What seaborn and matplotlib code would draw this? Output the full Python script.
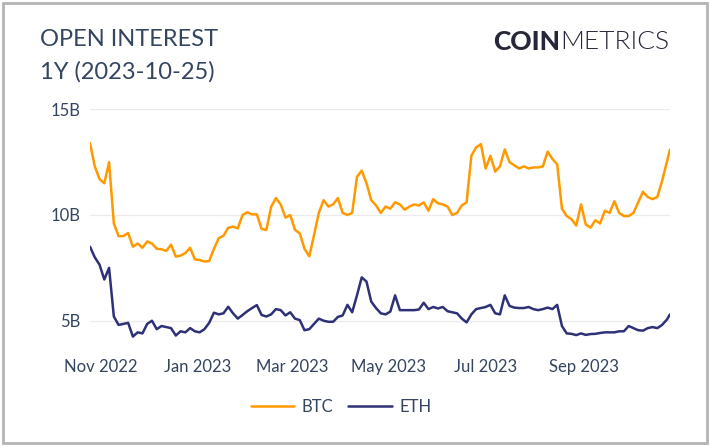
import numpy as np
import pandas as pd
import matplotlib
matplotlib.use("Agg")
import matplotlib.pyplot as plt
import matplotlib.dates as mdates
from matplotlib.patches import Rectangle
import seaborn as sns

# Open interest (billions USD), sampled every 3 days from 2022-10-25, last point 2023-10-25
btc_oi = [13.4, 12.3, 11.7, 11.5, 12.5, 9.6, 9.0, 9.0, 9.15, 8.5,
          8.65, 8.45, 8.75, 8.65, 8.4, 8.38, 8.3, 8.6, 8.03, 8.08,
          8.2, 8.45, 7.9, 7.87, 7.8, 7.82, 8.4, 8.9, 9.02, 9.4,
          9.45, 9.37, 10.0, 10.13, 10.03, 10.03, 9.34, 9.29, 10.39, 10.8,
          10.5, 9.88, 10.0, 9.3, 9.13, 8.4, 8.05, 9.05, 10.1, 10.7,
          10.4, 10.5, 10.8, 10.1, 10.0, 10.1, 11.8, 12.1, 11.5, 10.7,
          10.45, 10.1, 10.4, 10.3, 10.6, 10.5, 10.25, 10.4, 10.5, 10.45,
          10.6, 10.2, 10.75, 10.55, 10.5, 10.4, 10.0, 10.1, 10.45, 10.6,
          12.8, 13.2, 13.35, 12.2, 12.8, 12.05, 12.3, 13.1, 12.5, 12.35,
          12.2, 12.3, 12.2, 12.25, 12.25, 12.3, 13.0, 12.65, 12.4, 10.3,
          9.95, 9.8, 9.5, 10.5, 9.55, 9.4, 9.75, 9.6, 10.2, 10.1,
          10.65, 10.1, 9.95, 9.95, 10.1, 10.6, 11.1, 10.85, 10.75, 10.85,
          11.6, 12.5, 13.1]

eth_oi = [8.5, 8.0, 7.65, 6.95, 7.5, 5.2, 4.8, 4.85, 4.9, 4.25,
          4.45, 4.4, 4.85, 5.0, 4.6, 4.75, 4.7, 4.65, 4.3, 4.5,
          4.45, 4.65, 4.5, 4.45, 4.6, 4.9, 5.38, 5.3, 5.35, 5.66,
          5.35, 5.1, 5.27, 5.45, 5.6, 5.74, 5.27, 5.2, 5.3, 5.55,
          5.5, 5.25, 5.4, 5.1, 5.03, 4.55, 4.6, 4.85, 5.1, 5.0,
          4.95, 4.95, 5.18, 5.25, 5.75, 5.4, 6.2, 7.05, 6.85, 5.9,
          5.6, 5.35, 5.3, 5.43, 6.2, 5.5, 5.5, 5.5, 5.5, 5.53,
          5.85, 5.55, 5.65, 5.58, 5.65, 5.45, 5.4, 5.35, 5.1, 4.92,
          5.3, 5.55, 5.6, 5.65, 5.75, 5.35, 5.3, 6.2, 5.7, 5.62,
          5.6, 5.6, 5.65, 5.55, 5.5, 5.55, 5.62, 5.55, 5.75, 4.75,
          4.4, 4.38, 4.32, 4.4, 4.33, 4.37, 4.38, 4.42, 4.45, 4.45,
          4.45, 4.5, 4.5, 4.75, 4.65, 4.55, 4.53, 4.65, 4.7, 4.65,
          4.8, 5.05, 5.3]

assert len(btc_oi) == len(eth_oi) == 123

start = pd.Timestamp("2022-10-25")
end = pd.Timestamp("2023-10-25")
dates = list(pd.date_range(start, periods=len(btc_oi) - 1, freq="3D")) + [end]

y_ticks = [5, 10, 15]
x_ticks = ["2022-11-01", "2023-01-01", "2023-03-01", "2023-05-01", "2023-07-01", "2023-09-01"]

df = pd.DataFrame({"date": dates, "BTC": btc_oi, "ETH": eth_oi})

sns.set_style("white")
plt.rcParams["font.family"] = ["Lato", "DejaVu Sans"]

text_col = "#34455f"
btc_col = "#ff9900"
eth_col = "#2f3177"

fig = plt.figure(figsize=(7.1, 4.46), dpi=100)
ax = fig.add_axes([90 / 710, 0.224, 580 / 710, 0.531])

sns.lineplot(data=df, x="date", y="BTC", ax=ax, color=btc_col, linewidth=1.8, label="BTC", legend=False)
sns.lineplot(data=df, x="date", y="ETH", ax=ax, color=eth_col, linewidth=1.8, label="ETH", legend=False)

ax.set_xlim(start, end)
ax.set_ylim(3.8, 15.0)
ax.set_yticks(y_ticks)
ax.set_yticklabels([f"{v}B" for v in y_ticks])
ax.set_xticks(pd.to_datetime(x_ticks))
ax.xaxis.set_major_formatter(mdates.DateFormatter("%b %Y"))
ax.grid(axis="y", color="#ececec", linewidth=1)
ax.grid(axis="x", visible=False)
for s in ax.spines.values():
    s.set_visible(False)
ax.tick_params(axis="both", length=0, labelsize=12, colors=text_col)
ax.tick_params(axis="x", pad=9)
ax.tick_params(axis="y", pad=7)
ax.set_xlabel("")
ax.set_ylabel("")

# title block
fig.text(40 / 710, 1 - 40 / 446, "OPEN INTEREST", fontsize=17, color=text_col, va="center", ha="left")
fig.text(40 / 710, 1 - 72 / 446, "1Y (2023-10-25)", fontsize=17, color=text_col, va="center", ha="left")

# brand: heavy "COIN" + light "METRICS"
t1 = fig.text(493 / 710, 1 - 42 / 446, "COIN", fontsize=19, fontweight=900, color="#26283a",
              va="center", ha="left")
fig.canvas.draw()
bb = t1.get_window_extent()
fig.text(bb.x1 / fig.bbox.width, 1 - 42 / 446, "METRICS", fontsize=19, fontweight=300,
         color="#26283a", va="center", ha="left")

handles, labels = ax.get_legend_handles_labels()
fig.legend(handles, labels, loc="center", bbox_to_anchor=(341 / 710, 1 - 407 / 446), ncol=2,
           frameon=False, fontsize=12, labelcolor=text_col, handlelength=2.6,
           columnspacing=0.9, handletextpad=0.45)

# outer frame
fig.patches.append(Rectangle((0.004, 0.006), 0.992, 0.988, transform=fig.transFigure,
                             fill=False, edgecolor="#b4b4b4", linewidth=2))

fig.savefig("out.png", dpi=100)
